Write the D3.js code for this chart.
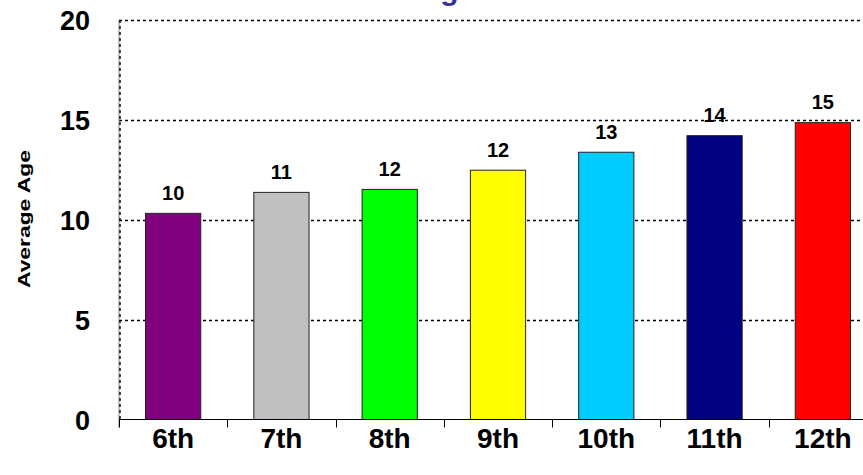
<!DOCTYPE html>
<html>
<head>
<meta charset="utf-8">
<script src="https://cdn.jsdelivr.net/npm/d3@7"></script>
<style>
  html, body { margin: 0; padding: 0; background: #fff; }
  svg { display: block; font-family: Arial, "Liberation Sans", sans-serif; }
</style>
</head>
<body>
<svg id="chart" width="863" height="475"></svg>
<script>
const categories = ["6th", "7th", "8th", "9th", "10th", "11th", "12th"];
const values = [10.32, 11.37, 11.52, 12.48, 13.38, 14.21, 14.86];
const barLabels = ["10", "11", "12", "12", "13", "14", "15"];
const colors = ["#800080", "#C0C0C0", "#00FF00", "#FFFF00", "#00CCFF", "#000080", "#FF0000"];
const yTicks = [0, 5, 10, 15, 20];
const titleText = "Age";
const yTitle = "Average Age";

(function () {
const svg = d3.select("#chart");
const pLeft = 119, pRight = 877, pTop = 20, pBottom = 419.5;

const x = d3.scaleBand().domain(categories).range([pLeft, pRight]).paddingInner(0.49).paddingOuter(0.245);
const xEdge = d3.scaleLinear().domain([0, categories.length]).range([pLeft, pRight]);
const y = d3.scaleLinear().domain([0, 20]).range([pBottom, pTop]);

// title (mostly cut off at the top)
svg.append("text").attr("x", 447).attr("y", 0).attr("text-anchor", "middle")
  .attr("font-size", 30).attr("font-weight", "bold").attr("fill", "#333399").text(titleText);

// gridlines (dotted)
svg.append("g").selectAll("line").data(yTicks.filter(d => d > 0)).join("line")
  .attr("x1", pLeft).attr("x2", pRight)
  .attr("y1", d => Math.round(y(d)) + 0.5).attr("y2", d => Math.round(y(d)) + 0.5)
  .attr("stroke", "#000").attr("stroke-width", 1.6).attr("stroke-dasharray", "3,3");

// left border: gray solid + dotted black
svg.append("line").attr("x1", pLeft).attr("x2", pLeft).attr("y1", pTop).attr("y2", pBottom + 8)
  .attr("stroke", "#808080").attr("stroke-width", 1);
svg.append("line").attr("x1", pLeft + 1).attr("x2", pLeft + 1).attr("y1", pTop).attr("y2", pBottom)
  .attr("stroke", "#000").attr("stroke-width", 1.4).attr("stroke-dasharray", "3,3");

// bars
svg.append("g").selectAll("rect").data(categories).join("rect")
  .attr("x", d => x(d)).attr("width", x.bandwidth())
  .attr("y", (d, i) => y(values[i])).attr("height", (d, i) => y(0) - y(values[i]))
  .attr("fill", (d, i) => colors[i]).attr("stroke", "#222").attr("stroke-width", 1);

// bar value labels
svg.append("g").selectAll("text").data(categories).join("text")
  .attr("x", d => x(d) + x.bandwidth() / 2)
  .attr("y", (d, i) => y(values[i]) - 13.5)
  .attr("text-anchor", "middle").attr("font-size", 20).attr("font-weight", "bold")
  .attr("fill", "#000").text((d, i) => barLabels[i]);

// x axis line and ticks
svg.append("line").attr("x1", pLeft).attr("x2", pRight).attr("y1", pBottom).attr("y2", pBottom)
  .attr("stroke", "#000").attr("stroke-width", 1.2);
svg.append("g").selectAll("line").data(d3.range(categories.length + 1)).join("line")
  .attr("x1", i => Math.round(xEdge(i)) + 0.5).attr("x2", i => Math.round(xEdge(i)) + 0.5)
  .attr("y1", pBottom).attr("y2", pBottom + 8).attr("stroke", "#000").attr("stroke-width", 1);

// x labels
svg.append("g").selectAll("text").data(categories).join("text")
  .attr("x", d => x(d) + x.bandwidth() / 2).attr("y", 448)
  .attr("text-anchor", "middle").attr("font-size", 28).attr("font-weight", "bold")
  .attr("fill", "#000").text(d => d);

// y labels
svg.append("g").selectAll("text").data(yTicks).join("text")
  .attr("x", 90).attr("y", d => y(d) + 10)
  .attr("text-anchor", "end").attr("font-size", 27).attr("font-weight", "bold")
  .attr("fill", "#000").text(d => d);

// y title
svg.append("text").attr("transform", "translate(30,219) rotate(-90)")
  .attr("text-anchor", "middle").attr("font-size", 16).attr("font-weight", "bold")
  .attr("textLength", 138).attr("lengthAdjust", "spacingAndGlyphs")
  .attr("fill", "#000").text(yTitle);
})();
</script>
</body>
</html>
